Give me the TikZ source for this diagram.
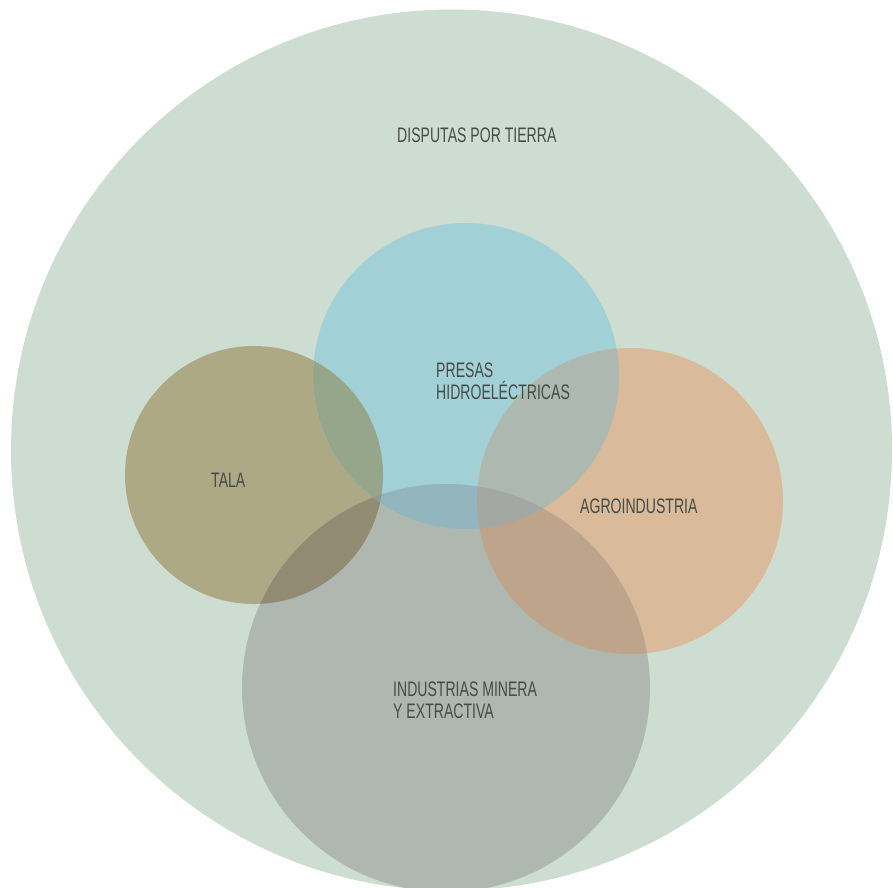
\documentclass[tikz,border=0pt]{standalone}
\usepackage{fontspec}
\setmainfont{Liberation Sans}[FakeStretch=0.67]
\usepackage{tikz}
\definecolor{tierra}{HTML}{CEDDD1}
\definecolor{presa}{HTML}{A2D0D7}
\definecolor{tala}{HTML}{AEA985}
\definecolor{agro}{HTML}{D9BA9A}
\definecolor{mina}{HTML}{AFB8B0}
\definecolor{talapresa}{HTML}{96A68A}
\definecolor{talamina}{HTML}{918B73}
\definecolor{presamina}{HTML}{93B6BE}
\definecolor{presaagro}{HTML}{ADB8B0}
\definecolor{agromina}{HTML}{BFA48C}
\definecolor{presaagromina}{HTML}{A3A8A4}
\definecolor{talapresamina}{HTML}{8D9B88}
\definecolor{texto}{HTML}{474B47}
\tikzstyle{label} = [anchor = base west, align = left, inner sep = 0pt, text = texto, font = \fontsize{21}{21.5}\selectfont]

\begin{document}
\begin{tikzpicture}[x = 1pt, y = -1pt]
    \useasboundingbox (0, 0) rectangle (893, 887);
    \begin{scope}
    \clip (0, 0) rectangle (893, 887);
    % centres
    \coordinate (T) at (451.5, 450);
    \coordinate (P) at (466, 376);
    \coordinate (L) at (254, 475);
    \coordinate (A) at (630, 501);
    \coordinate (M) at (446, 688);
    \def\rT{440.5pt}
    \def\rP{153pt}
    \def\rL{129pt}
    \def\rA{153pt}
    \def\rM{204pt}

    % single circles
    \fill [tierra] (T) circle [radius = \rT];
    \fill [tala] (L) circle [radius = \rL];
    \fill [presa] (P) circle [radius = \rP];
    \fill [agro] (A) circle [radius = \rA];
    \fill [mina] (M) circle [radius = \rM];

    % pairs
    \begin{scope}
        \clip (L) circle [radius = \rL];
        \fill [talapresa] (P) circle [radius = \rP];
        \fill [talamina] (M) circle [radius = \rM];
    \end{scope}
    \begin{scope}
        \clip (P) circle [radius = \rP];
        \fill [presamina] (M) circle [radius = \rM];
        \fill [presaagro] (A) circle [radius = \rA];
    \end{scope}
    \begin{scope}
        \clip (A) circle [radius = \rA];
        \fill [agromina] (M) circle [radius = \rM];
    \end{scope}

    % triples
    \begin{scope}
        \clip (P) circle [radius = \rP];
        \clip (A) circle [radius = \rA];
        \fill [presaagromina] (M) circle [radius = \rM];
    \end{scope}
    \begin{scope}
        \clip (L) circle [radius = \rL];
        \clip (P) circle [radius = \rP];
        \fill [talapresamina] (M) circle [radius = \rM];
    \end{scope}
    \end{scope}

    % labels (base = last line)
    \node (disputas) at (397, 142) [label] {DISPUTAS POR TIERRA};
    \node (presas) at (436, 399) [label] {PRESAS\\HIDROELÉCTRICAS};
    \node (talatxt) at (211, 487) [label] {TALA};
    \node (agrotxt) at (580, 513) [label] {AGROINDUSTRIA};
    \node (minatxt) at (393, 718) [label] {INDUSTRIAS MINERA\\Y EXTRACTIVA};
\end{tikzpicture}
\end{document}
